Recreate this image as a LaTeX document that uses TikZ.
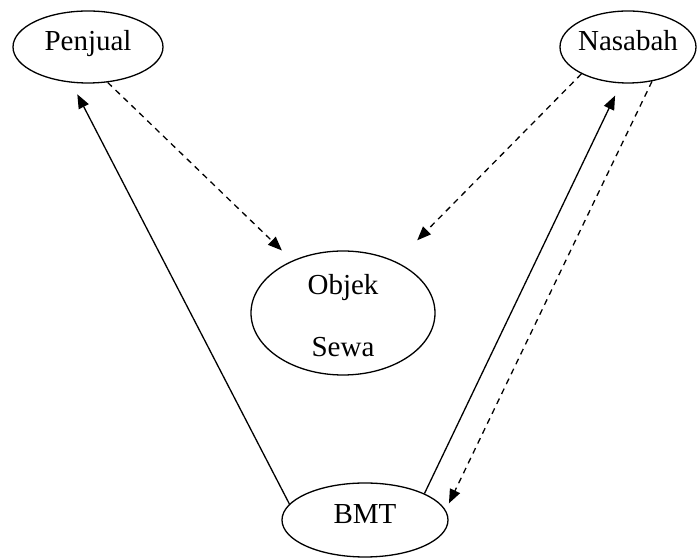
\documentclass[tikz,border=0pt]{standalone}
\usepackage{fontspec}
\setmainfont{Liberation Serif}
\usetikzlibrary{shapes.geometric,arrows.meta}
\tikzset{
  oval/.style={draw, ellipse, line width=1.3pt, inner sep=0pt},
  ovaltext/.style={font=\fontsize{29}{35}\selectfont, text height=0.7em, text depth=0pt, inner sep=0pt},
  conn/.style={line width=1.3pt, -{Triangle[length=14pt,width=11pt]}},
  dashconn/.style={conn, dash pattern=on 6pt off 5pt},
}
\begin{document}
\begin{tikzpicture}[x=1pt,y=1pt]
\useasboundingbox (0,0) rectangle (697,559);
\node[oval, minimum width=150pt, minimum height=72pt] (penjual) at (88,512) {};
\node[ovaltext] (tpenjual) at (penjual) {Penjual};
\node[oval, minimum width=136pt, minimum height=72pt] (nasabah) at (628,512) {};
\node[ovaltext] (tnasabah) at (nasabah) {Nasabah};
\node[oval, minimum width=184pt, minimum height=124pt] (objek) at (343,246) {};
\node[ovaltext, align=center, text height=, text depth=, font=\fontsize{29}{62}\selectfont] (tobjek) at (343,243) {Objek\\Sewa};
\node[oval, minimum width=166pt, minimum height=74pt] (bmt) at (365,39) {};
\node[ovaltext] (tbmt) at (bmt) {BMT};
\draw[dashconn, shorten >=14.5pt] (penjual.-61) -- (objek.134.5);
\draw[conn, shorten >=13pt] (bmt.168) -- (penjual.-115);
\draw[dashconn, shorten >=30pt] (nasabah.-150) -- (objek.44.6);
\draw[conn, shorten >=13.5pt] (bmt.24.6) -- (nasabah.-101);
\draw[dashconn, shorten >=7.5pt] (nasabah.-55) -- (bmt.7.4);
\end{tikzpicture}
\end{document}
